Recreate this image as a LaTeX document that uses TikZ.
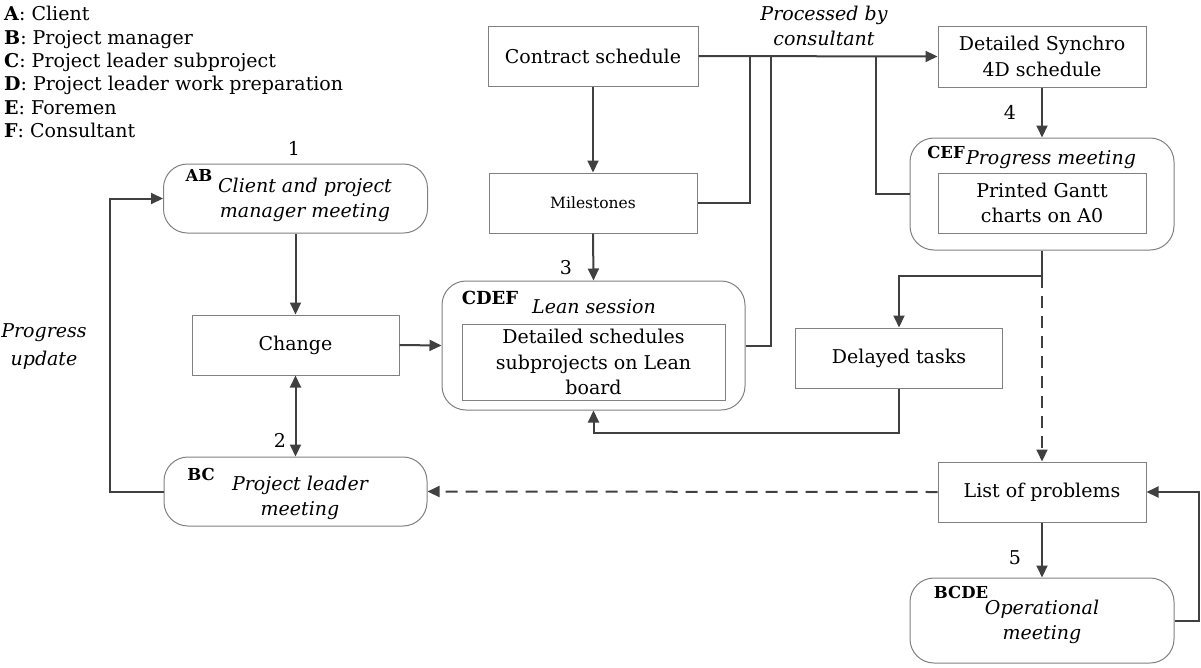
\documentclass[tikz,border=0pt]{standalone}
\usepackage{fontspec}
\setmainfont{DejaVu Serif}
\usetikzlibrary{arrows.meta}
\definecolor{lc}{HTML}{404040}
\definecolor{bc}{HTML}{808080}
\newcommand{\fs}{\fontsize{19}{25.5}\selectfont}
\begin{document}
\begin{tikzpicture}[x=1pt,y=-1pt,
  sqbox/.style={draw=bc,line width=1pt,inner sep=0pt,align=center,font=\fs},
  rbox/.style={draw=bc,line width=1pt,rounded corners=24pt,inner sep=0pt},
  itext/.style={inner sep=0pt,align=center,font=\fs\itshape},
  lab/.style={inner sep=0pt,font=\fontsize{16.5}{18}\selectfont\bfseries},
  num/.style={inner sep=0pt,font=\fs},
  arr/.style={draw=lc,line width=2pt,-{Triangle[length=12pt,width=11pt]}},
  ln/.style={draw=lc,line width=2pt},
  dsh/.style={dash pattern=on 12pt off 8pt}]
\useasboundingbox (0,0) rectangle (1201,667);

% legend
\node[inner sep=0pt,anchor=north west,align=left,font=\fontsize{19}{23.4}\selectfont] (legend) at (4,6)
 {\textbf{A}: Client\\ \textbf{B}: Project manager\\ \textbf{C}: Project leader subproject\\
  \textbf{D}: Project leader work preparation\\ \textbf{E}: Foremen\\ \textbf{F}: Consultant};

% left column
\node[rbox,minimum width=264pt,minimum height=69pt] (AB) at (295.5,198.5) {};
\node[lab] (ABl) at (199,175) {AB};
\node[itext] (ABt) at (305,200) {Client and project\\manager meeting};
\node[num] (n1) at (294,148) {1};

\node[sqbox,minimum width=207pt,minimum height=60pt] (change) at (295.5,345) {Change};

\node[rbox,minimum width=263pt,minimum height=69pt] (BC) at (295.5,491.5) {};
\node[lab] (BCl) at (201,474) {BC};
\node[itext] (BCt) at (300,498) {Project leader\\meeting};
\node[num] (n2) at (280,440) {2};

\node[itext,font=\fontsize{19}{28}\selectfont\itshape] (pu) at (44,347) {Progress\\update};

% middle column
\node[sqbox,minimum width=210pt,minimum height=60pt] (contract) at (593,56) {Contract schedule};
\node[sqbox,minimum width=208pt,minimum height=60pt,font=\fontsize{15.5}{18}\selectfont] (miles) at (593,203) {Milestones};
\node[num] (n3) at (566,268) {3};

\node[rbox,minimum width=303pt,minimum height=129pt] (CDEF) at (593.5,345.5) {};
\node[lab,font=\fontsize{18}{20}\selectfont\bfseries] (CDEFl) at (490,298) {CDEF};
\node[itext] (CDEFt) at (594,307) {Lean session};
\node[sqbox,minimum width=263pt,minimum height=76pt] (lean) at (593.5,362) {Detailed schedules\\subprojects on Lean\\board};

\node[itext] (proc) at (824,26) {Processed by\\consultant};

% right column
\node[sqbox,minimum width=208pt,minimum height=61pt] (synchro) at (1042,56.5) {Detailed Synchro\\4D schedule};
\node[num] (n4) at (1010,112) {4};

\node[rbox,minimum width=264pt,minimum height=112pt] (CEF) at (1042,194) {};
\node[lab] (CEFl) at (946,152) {CEF};
\node[itext] (CEFt) at (1051,160) {Progress meeting};
\node[sqbox,minimum width=208pt,minimum height=60pt] (gantt) at (1042,203) {Printed Gantt\\charts on A0};

\node[sqbox,minimum width=207pt,minimum height=60pt] (delayed) at (899,358) {Delayed tasks};

\node[sqbox,minimum width=208pt,minimum height=60pt] (list) at (1042,492) {List of problems};
\node[num] (n5) at (1015,558) {5};

\node[rbox,minimum width=264pt,minimum height=85pt] (BCDE) at (1042,620.5) {};
\node[lab] (BCDEl) at (961,592) {BCDE};
\node[itext] (BCDEt) at (1042,622) {Operational\\meeting};

% junction coordinates
\coordinate (j1) at (750,56);
\coordinate (j2) at (771,56);
\coordinate (j3) at (876,56);
\coordinate (br) at (1042,276);

% connectors
\draw[arr] (contract.east) -- (synchro.west);
\draw[arr] (contract.south) -- (miles.north);
\draw[ln] (miles.east) -| (j1);
\draw[ln] (CDEF.east) -| (j2);
\draw[ln] (CEF.west) -| (j3);
\draw[arr] (miles.south) -- (CDEF.north);
\draw[arr] (synchro.south) -- (CEF.north);
\draw[ln] (CEF.south) -- (br);
\draw[arr] (br) -| (delayed.north);
\draw[arr,dsh] (br) -- (list.north);
\draw[arr] (delayed.south) -- ++(0,44) -| (CDEF.south);
\draw[arr,dsh] (list.west) -- (BC.east);
\draw[arr] (list.south) -- (BCDE.north);
\draw[arr] (BCDE.east) -- ++(24,0) |- (list.east);
\draw[arr] (AB.south) -- (change.north);
\draw[ln,{Triangle[length=12pt,width=11pt]}-{Triangle[length=12pt,width=11pt]}] (change.south) -- (BC.north);
\draw[arr] (change.east) -- (CDEF.west);
\draw[arr] (BC.west) -- ++(-54,0) |- (AB.west);
\end{tikzpicture}
\end{document}
